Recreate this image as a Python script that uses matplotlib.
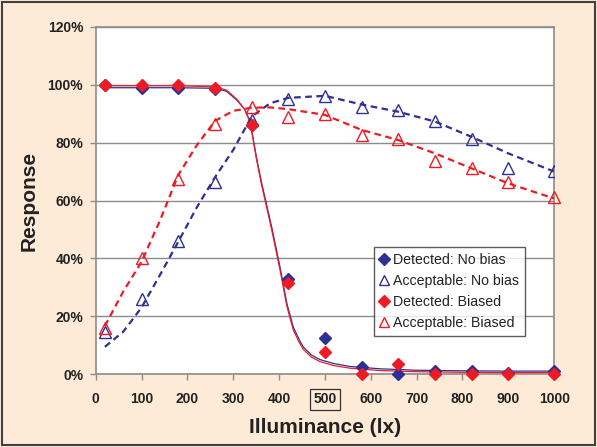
import matplotlib
matplotlib.use("Agg")
import matplotlib.pyplot as plt
from matplotlib.patches import Rectangle
from matplotlib.lines import Line2D

plt.rcParams['font.family'] = ['Liberation Sans', 'DejaVu Sans']

# measured points (illuminance in lx, response in %)
lux = [20, 100, 180, 260, 340, 420, 500, 580, 660, 740, 820, 900, 1000]
detected_nobias = [100, 99, 99, 98.5, 86, 33, 12.5, 2.5, 0, 1, 1, 0.5, 1]
detected_biased = [100, 100, 100, 99, 86, 31.5, 7.5, 0, 3.6, 0, 0, 0, 0]
accept_nobias = [14.5, 26, 46, 66.5, 87.8, 95, 96.2, 92.4, 91.4, 87.5, 81.1, 71.1, 70.1]
accept_biased = [16, 40, 67.4, 86.4, 92.4, 89, 89.9, 82.8, 81.1, 73.8, 71.1, 66.4, 61.3]

# fitted curves
fit_x_acc = [20, 60, 100, 140, 180, 220, 260, 300, 340, 380, 420, 500, 580, 660, 740, 820, 900, 1000]
fit_acc_nobias = [9.4, 14.6, 23, 34.2, 45.7, 57.5, 68, 77.5, 89, 93.6, 95.5, 96.2, 93.2, 90.7, 87.3, 82, 76.3, 70]
fit_acc_biased = [16.6, 28.5, 38.8, 53, 68.8, 79, 87.5, 91, 92.1, 92.2, 91.6, 89.6, 84.4, 80.9, 76.3, 71.1, 65.9, 60.7]

fit_x_det = [20, 100, 180, 260, 285, 308, 325, 337, 351, 362, 373, 385, 402, 417, 431, 445, 453, 470, 489, 520, 555, 620, 700, 800, 900, 1000]
fit_det_nobias = [99, 99, 99, 98.8, 97.8, 94.7, 91.5, 87.2, 74.6, 66, 58.4, 50, 37, 24.4, 16.2, 11.5, 9.3, 6.6, 5, 3.6, 2.6, 1.8, 1.3, 1.1, 1, 1]
fit_det_biased = [99.7, 99.7, 99.7, 99.3, 98.2, 95, 91.5, 87, 74, 65.2, 57.6, 49, 36, 23.4, 15.2, 10.6, 8.5, 5.9, 4.3, 2.9, 2.0, 1.2, 0.8, 0.6, 0.5, 0.5]

x_ticks = [0, 100, 200, 300, 400, 500, 600, 700, 800, 900, 1000]
y_ticks = [0, 20, 40, 60, 80, 100, 120]

blue = '#2e3192'
red = '#ed1c24'
peach = '#fdebd7'
grey = '#8c8c8c'

fig = plt.figure(figsize=(5.97, 4.47), dpi=100)
fig.patch.set_facecolor(peach)
ax = fig.add_axes([0.1603, 0.1633, 0.768, 0.7763])
ax.set_facecolor('white')

ax.plot(fit_x_acc, fit_acc_nobias, color=blue, lw=1.6, ls=(0, (3, 2)), zorder=3)
ax.plot(fit_x_acc, fit_acc_biased, color=red, lw=1.6, ls=(0, (3, 2)), zorder=3)
ax.plot(fit_x_det, fit_det_nobias, color=blue, lw=0.9, zorder=3)
ax.plot(fit_x_det, fit_det_biased, color=red, lw=0.9, zorder=3)

ax.plot(lux, detected_nobias, 'D', color=blue, ms=6.5, ls='none', zorder=4, clip_on=False)
ax.plot(lux, accept_nobias, '^', mfc='none', mec=blue, mew=1.0, ms=8.5, ls='none', zorder=4)
ax.plot(lux, detected_biased, 'D', color=red, ms=6.5, ls='none', zorder=5, clip_on=False)
ax.plot(lux, accept_biased, '^', mfc='none', mec=red, mew=1.0, ms=8.5, ls='none', zorder=5, clip_on=False)

ax.set_xlim(0, 1000)
ax.set_ylim(0, 120)
ax.set_xticks(x_ticks)
ax.set_yticks(y_ticks)
ax.set_yticklabels([f'{v}%' for v in y_ticks])
ax.grid(axis='y', color=grey, lw=1.0, zorder=1)
ax.set_axisbelow(True)
for s in ax.spines.values():
    s.set_color(grey)
    s.set_linewidth(1.2)
ax.tick_params(direction='out', length=4, color=grey, width=1.0,
               labelsize=10, labelcolor='#222222', pad=5)
for lab in ax.get_xticklabels() + ax.get_yticklabels():
    lab.set_fontweight('bold')
ax.tick_params(axis='x', pad=9)
# the 500 label is boxed in the original
for lab in ax.get_xticklabels():
    if lab.get_text() == '500':
        lab.set_bbox(dict(boxstyle='square,pad=0.25', fc='none', ec='#333333', lw=0.9))

ax.set_xlabel('Illuminance (lx)', fontsize=15, fontweight='bold', color='#222222')
ax.set_ylabel('Response', fontsize=15, fontweight='bold', color='#222222')
ax.xaxis.set_label_coords(0.5, -0.128)
ax.yaxis.set_label_coords(-0.124, 0.5)

handles = [
    Line2D([], [], marker='D', color=blue, ls='none', ms=6),
    Line2D([], [], marker='^', mfc='none', mec=blue, ls='none', ms=7.5),
    Line2D([], [], marker='D', color=red, ls='none', ms=6),
    Line2D([], [], marker='^', mfc='none', mec=red, ls='none', ms=7.5),
]
labels = ['Detected: No bias', 'Acceptable: No bias', 'Detected: Biased', 'Acceptable: Biased']
leg = ax.legend(handles, labels, loc='upper left', bbox_to_anchor=(0.608, 0.365),
                fontsize=10.2, frameon=True, fancybox=False, handlelength=0.6,
                handletextpad=0.3, borderpad=0.4, labelspacing=0.5, borderaxespad=0)
leg.get_frame().set_edgecolor('#333333')
leg.get_frame().set_linewidth(1.0)
for t in leg.get_texts():
    t.set_color('#222222')

fig.patches.append(Rectangle((0.003, 0.004), 0.994, 0.991, transform=fig.transFigure,
                             fill=False, ec='#404040', lw=1.5))

fig.savefig('out.png', dpi=100, facecolor=fig.get_facecolor())
